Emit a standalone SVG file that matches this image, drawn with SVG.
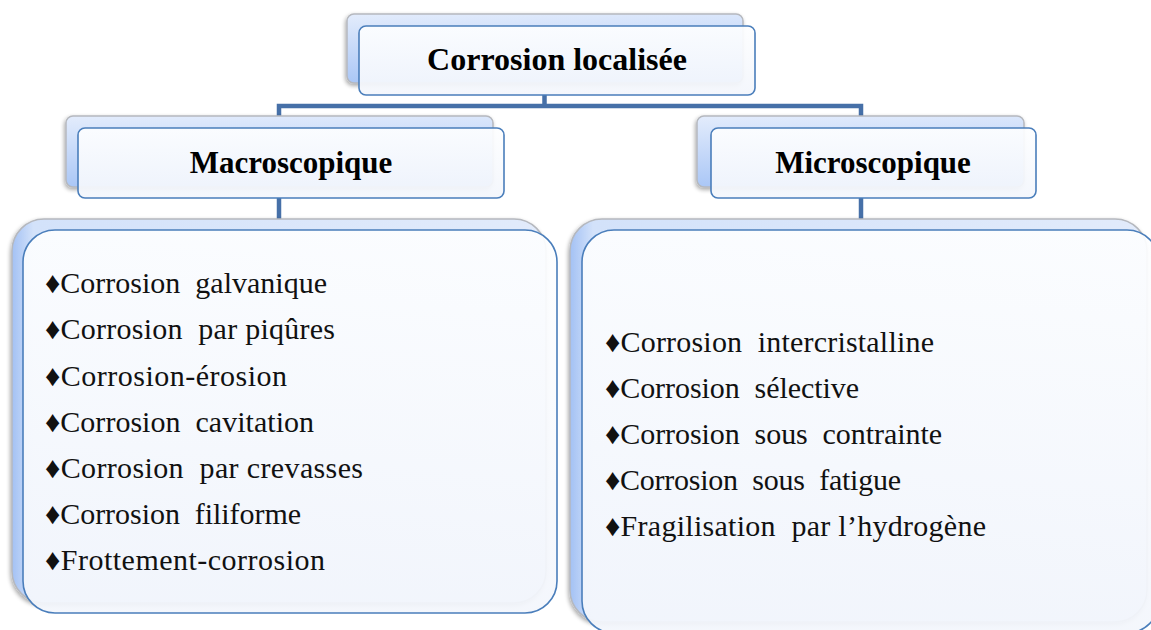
<svg xmlns="http://www.w3.org/2000/svg" width="1151" height="630" viewBox="0 0 1151 630" xml:space="preserve">
<defs>
<linearGradient id="backGrad" x1="0" y1="0" x2="1" y2="0">
<stop offset="0" stop-color="#a3c1f4"/>
<stop offset="0.04" stop-color="#d3e2fa"/>
<stop offset="1" stop-color="#e2ebfb"/>
</linearGradient>
<linearGradient id="backGradS" x1="0" y1="0" x2="0.15" y2="1">
<stop offset="0" stop-color="#e3ecfc"/>
<stop offset="1" stop-color="#a9c6f6"/>
</linearGradient>
<linearGradient id="frontGrad" x1="0" y1="0" x2="0" y2="1">
<stop offset="0" stop-color="#fdfeff"/>
<stop offset="1" stop-color="#f3f6fc"/>
</linearGradient>
<filter id="shadow" x="-10%" y="-10%" width="120%" height="125%">
<feGaussianBlur in="SourceAlpha" stdDeviation="2"/>
<feOffset dx="-1" dy="2" result="b"/>
<feComponentTransfer><feFuncA type="linear" slope="0.35"/></feComponentTransfer>
<feMerge><feMergeNode/><feMergeNode in="SourceGraphic"/></feMerge>
</filter>
</defs>
<style>
.back{stroke:#b5b8be;stroke-width:1.5;filter:url(#shadow)}
.front{fill:url(#frontGrad);fill-opacity:0.93;stroke:#4a7ebb;stroke-width:1.6}
.conn{fill:none;stroke:#4670a8;stroke-width:4.5;stroke-linejoin:miter}
.head{font-family:"Liberation Serif","Times New Roman",serif;font-weight:bold;fill:#000;text-anchor:middle}
.item{font-family:"Liberation Serif","Times New Roman",serif;font-size:30px;fill:#111;white-space:pre}
</style>
<g id="connectors">
<path class="conn" d="M544.5,95 V106"/>
<path class="conn" d="M279,128 V106 H861 V128"/>
<path class="conn" d="M279,198 V230"/>
<path class="conn" d="M861,198 V230"/>
</g>
<g id="node-root">
<rect class="back" x="347" y="14" width="396" height="69" rx="7" fill="url(#backGradS)"/>
<rect class="front" x="359" y="26" width="396" height="69" rx="7"/>
<text class="head" x="557" y="70" font-size="32">Corrosion localisée</text>
</g>
<g id="node-macro">
<rect class="back" x="66" y="116" width="427" height="71" rx="7" fill="url(#backGradS)"/>
<rect class="front" x="78" y="128" width="426" height="70" rx="7"/>
<text class="head" x="291" y="173" font-size="31">Macroscopique</text>
</g>
<g id="node-micro">
<rect class="back" x="697" y="116" width="327" height="71" rx="7" fill="url(#backGradS)"/>
<rect class="front" x="711" y="128" width="325" height="70" rx="7"/>
<text class="head" x="873" y="173" font-size="31">Microscopique</text>
</g>
<g id="node-macro-list">
<rect class="back" x="12" y="219" width="534" height="384" rx="32" fill="url(#backGrad)"/>
<rect class="front" x="23" y="230" width="534" height="383" rx="32"/>
<text class="item" x="45" y="293" textLength="282" lengthAdjust="spacing">♦Corrosion  galvanique</text>
<text class="item" x="45" y="339" textLength="290" lengthAdjust="spacing">♦Corrosion  par piqûres</text>
<text class="item" x="45" y="386" textLength="242" lengthAdjust="spacing">♦Corrosion-érosion</text>
<text class="item" x="45" y="432" textLength="269" lengthAdjust="spacing">♦Corrosion  cavitation</text>
<text class="item" x="45" y="478" textLength="318" lengthAdjust="spacing">♦Corrosion  par crevasses</text>
<text class="item" x="45" y="524" textLength="256" lengthAdjust="spacing">♦Corrosion  filiforme</text>
<text class="item" x="45" y="570" textLength="280" lengthAdjust="spacing">♦Frottement-corrosion</text>
</g>
<g id="node-micro-list">
<rect class="back" x="570" y="219" width="577" height="403" rx="32" fill="url(#backGrad)"/>
<rect class="front" x="582" y="230" width="577" height="403" rx="32"/>
<text class="item" x="605" y="352" textLength="329" lengthAdjust="spacing">♦Corrosion  intercristalline</text>
<text class="item" x="605" y="398" textLength="254" lengthAdjust="spacing">♦Corrosion  sélective</text>
<text class="item" x="605" y="444" textLength="337" lengthAdjust="spacing">♦Corrosion  sous  contrainte</text>
<text class="item" x="605" y="490" textLength="296" lengthAdjust="spacing">♦Corrosion  sous  fatigue</text>
<text class="item" x="605" y="536" textLength="381" lengthAdjust="spacing">♦Fragilisation  par l’hydrogène</text>
</g>
</svg>
